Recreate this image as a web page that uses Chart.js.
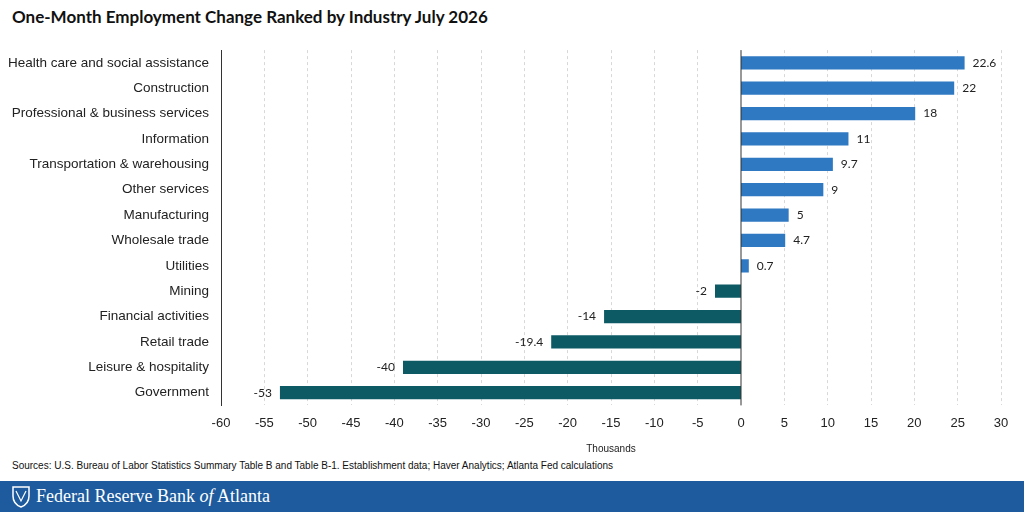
<!DOCTYPE html>
<html><head><meta charset="utf-8">
<script src="https://cdn.jsdelivr.net/npm/chart.js@4"></script>
<style>
body{margin:0;width:1024px;height:512px;background:#fff;font-family:Lato,"Open Sans",sans-serif;position:relative;overflow:hidden}
#title{position:absolute;left:12px;top:6px;font-size:17px;font-weight:bold;color:#111}
#wrap{position:absolute;left:0;top:38px;width:1024px;height:421px}
#src{position:absolute;left:12px;top:460px;font-size:10px;color:#111;font-family:"Liberation Sans",Arial,sans-serif}
#foot{position:absolute;left:0;top:481px;width:1024px;height:31px;background:#1d5b9e;color:#fff;font-family:"Liberation Serif","DejaVu Serif",serif;font-size:18px}
#foot span{position:absolute;left:36px;top:5px}
#foot i{font-style:italic}
</style></head><body>
<div id="title">One-Month Employment Change Ranked by Industry July 2026</div>
<div id="wrap"><canvas id="c"></canvas></div>
<div id="src">Sources: U.S. Bureau of Labor Statistics Summary Table B and Table B-1. Establishment data; Haver Analytics; Atlanta Fed calculations</div>
<div id="foot"><svg style="position:absolute;left:12px;top:5px" width="18" height="22" viewBox="0 0 18 22"><path d="M1 1 H17 V10 Q17 18 9 21 Q1 18 1 10 Z" fill="none" stroke="#fff" stroke-width="1.5"/><path d="M4 5 L9 15 L14 5" fill="none" stroke="#fff" stroke-width="1.2"/></svg><span>Federal Reserve Bank <i>of</i> Atlanta</span></div>
<script>
const categories=["Health care and social assistance","Construction","Professional & business services","Information","Transportation & warehousing","Other services","Manufacturing","Wholesale trade","Utilities","Mining","Financial activities","Retail trade","Leisure & hospitality","Government"];
const values=[25.8,24.6,20.1,12.4,10.6,9.5,5.5,5.1,0.9,-3,-15.8,-21.9,-39,-53.2];
const valueLabels=["22.6","22","18","11","9.7","9","5","4.7","0.7","-2","-14","-19.4","-40","-53"];
const xTicks={min:-60,max:30,step:5};
const posColor="#2f78c2",negColor="#0d5a64";
const labelPlugin={id:"lbl",afterDatasetsDraw(ch){const ctx=ch.ctx;const meta=ch.getDatasetMeta(0);ctx.save();ctx.font="12px Lato, 'Open Sans', sans-serif";ctx.fillStyle="#222";ctx.textBaseline="middle";
meta.data.forEach((b,i)=>{if(values[i]>=0){ctx.textAlign="left";ctx.fillText(valueLabels[i],b.x+8,b.y);}else{ctx.textAlign="right";ctx.fillText(valueLabels[i],b.x-8,b.y);}});ctx.restore();}};
new Chart(document.getElementById("c"),{type:"bar",
data:{labels:categories,datasets:[{data:values,backgroundColor:values.map(v=>v>=0?posColor:negColor),categoryPercentage:1,barPercentage:0.52}]},
options:{indexAxis:"y",responsive:true,maintainAspectRatio:false,animation:false,
layout:{padding:{top:5,right:23,left:0,bottom:0}},
plugins:{legend:{display:false},tooltip:{enabled:false}},
scales:{
x:{min:xTicks.min,max:xTicks.max,ticks:{stepSize:xTicks.step,color:"#222",font:{size:13},padding:10},
grid:{color:"#d8d8d8",drawTicks:false,lineWidth:c=>c.tick.value===0?0:1},border:{display:false,dash:[3,3]},
title:{display:true,text:"Thousands",color:"#222",font:{size:10},padding:{top:2}}},
y:{afterFit(s){s.width=221;},ticks:{color:"#222",font:{size:13.5},padding:4},grid:{display:false},border:{color:"#333"}}
}},
plugins:[labelPlugin,{id:"zero",afterDatasetsDraw(ch){const x=ch.scales.x.getPixelForValue(0),a=ch.chartArea,ctx=ch.ctx;ctx.save();ctx.strokeStyle="#333";ctx.lineWidth=1;ctx.beginPath();ctx.moveTo(x,a.top);ctx.lineTo(x,a.bottom);ctx.stroke();ctx.restore();}}]
});
</script></body></html>
